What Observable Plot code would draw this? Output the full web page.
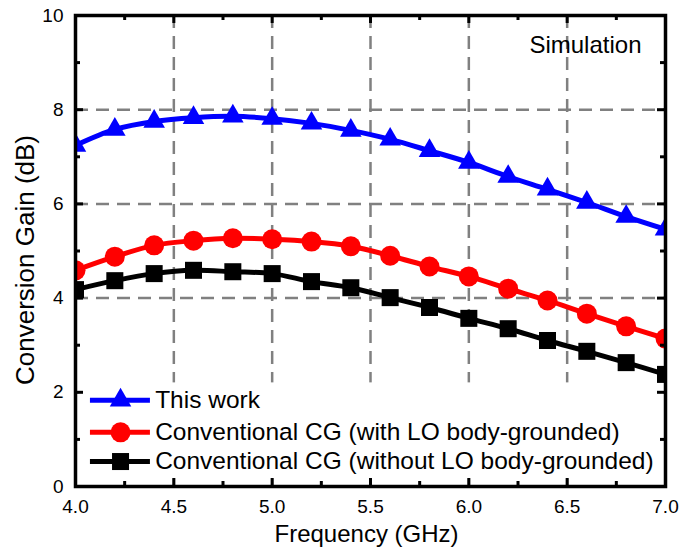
<!DOCTYPE html>
<html><head><meta charset="utf-8">
<script src="https://cdn.jsdelivr.net/npm/d3@7"></script>
<script src="https://cdn.jsdelivr.net/npm/@observablehq/plot@0.6"></script>
<style>body{margin:0;background:#fff} svg{display:block}</style>
</head><body><div id="chart"></div>
<script>
// ---- data ----
const freq = [4.0, 4.2, 4.4, 4.6, 4.8, 5.0, 5.2, 5.4, 5.6, 5.8, 6.0, 6.2, 6.4, 6.6, 6.8, 7.0];
const thisWork = [7.24, 7.58, 7.75, 7.83, 7.86, 7.81, 7.71, 7.56, 7.37, 7.13, 6.88, 6.58, 6.31, 6.03, 5.73, 5.46];
const cgWith = [4.59, 4.88, 5.12, 5.22, 5.27, 5.25, 5.20, 5.10, 4.90, 4.67, 4.46, 4.20, 3.95, 3.67, 3.40, 3.14];
const cgWithout = [4.18, 4.37, 4.52, 4.59, 4.56, 4.52, 4.35, 4.22, 4.01, 3.80, 3.57, 3.35, 3.10, 2.87, 2.63, 2.38];
const seriesNames = ["This work", "Conventional CG (with LO body-grounded)", "Conventional CG (without LO body-grounded)"];
const seriesValues = [thisWork, cgWith, cgWithout];
const xTicks = [4.0, 4.5, 5.0, 5.5, 6.0, 6.5, 7.0];
const xMinorTicks = [4.25, 4.75, 5.25, 5.75, 6.25, 6.75];
const yTicks = [0, 2, 4, 6, 8, 10];
const yMinorTicks = [1, 3, 5, 7, 9];
const xGrid = [4.5, 5.0, 5.5, 6.0, 6.5];
const yGrid = [2, 4, 6, 8];

// ---- styles / layout ----
const colors = ["#0000ff", "#ff0000", "#000000"];
const symbols = ["triangle", "circle", "square"];
const radii = [8, 10, 9.6];
const W = 688, H = 556, mL = 75, mR = 23, mT = 15, mB = 70;
const pw = W - mL - mR, ph = H - mT - mB;
const legendRowY = [1.83, 1.15, 0.53];
const legendLineX = [4.076, 4.381];
const legendMarkX = 4.229;
const legendTextX = 4.405;
const legendBox = {x1: 4.02, x2: 6.98, y1: 0.16, y2: 2.2};
const font = "'Liberation Sans', Arial, sans-serif";

const rows = seriesNames.flatMap((s, i) => freq.map((f, j) => ({series: s, idx: i, x: f, y: seriesValues[i][j]})));

const seriesMarks = seriesNames.flatMap((s, i) => {
  const d = rows.filter(r => r.idx === i);
  return [
    Plot.line(d, {x: "x", y: "y", stroke: colors[i], strokeWidth: 5, curve: "catmull-rom", clip: true}),
    Plot.dot(d, {x: "x", y: "y", symbol: symbols[i], fill: colors[i], r: radii[i], stroke: "none", clip: true})
  ];
});

const legendMarks = seriesNames.flatMap((s, i) => [
  Plot.ruleY([legendRowY[i]], {x1: legendLineX[0], x2: legendLineX[1], stroke: colors[i], strokeWidth: 5}),
  Plot.dot([{x: legendMarkX, y: legendRowY[i]}], {x: "x", y: "y", symbol: symbols[i], fill: colors[i], r: radii[i], stroke: "none"}),
  Plot.text([s], {x: legendTextX, y: legendRowY[i], text: d => d, textAnchor: "start", fontSize: 24.5, fill: "black"})
]);

const tickStyle = {stroke: "black", strokeWidth: 3};
const chart = Plot.plot({
  width: W, height: H,
  marginLeft: mL, marginRight: mR, marginTop: mT, marginBottom: mB,
  style: {fontFamily: font, background: "white", color: "black"},
  x: {domain: [4, 7]},
  y: {domain: [0, 10]},
  marks: [
    Plot.ruleX(xGrid, {stroke: "#808080", strokeWidth: 2.5, strokeDasharray: "13,8"}),
    Plot.ruleY(yGrid, {stroke: "#808080", strokeWidth: 2.5, strokeDasharray: "13,8"}),
    Plot.rect([legendBox], {x1: "x1", x2: "x2", y1: "y1", y2: "y2", fill: "white"}),
    ...seriesMarks,
    ...legendMarks,
    Plot.ruleX(xTicks, {...tickStyle, insetTop: ph - 8}),
    Plot.ruleX(xTicks, {...tickStyle, insetBottom: ph - 8}),
    Plot.ruleX(xMinorTicks, {...tickStyle, insetTop: ph - 5}),
    Plot.ruleX(xMinorTicks, {...tickStyle, insetBottom: ph - 5}),
    Plot.ruleY(yTicks, {...tickStyle, insetRight: pw - 8}),
    Plot.ruleY(yTicks, {...tickStyle, insetLeft: pw - 8}),
    Plot.ruleY(yMinorTicks, {...tickStyle, insetRight: pw - 5}),
    Plot.ruleY(yMinorTicks, {...tickStyle, insetLeft: pw - 5}),
    Plot.frame({stroke: "black", strokeWidth: 3.5}),
    Plot.axisX(xTicks, {tickSize: 0, tickPadding: 13, fontSize: 19, tickFormat: d3.format(".1f"), label: null}),
    Plot.axisY(yTicks, {tickSize: 0, tickPadding: 12, fontSize: 19, label: null}),
    Plot.text(["Frequency (GHz)"], {frameAnchor: "bottom", dx: -4, dy: 48, textAnchor: "middle", lineAnchor: "middle", fontSize: 24, text: d => d}),
    Plot.text(["Conversion Gain (dB)"], {frameAnchor: "left", dx: -50, dy: 9, rotate: -90, textAnchor: "middle", lineAnchor: "middle", fontSize: 26, text: d => d}),
    Plot.text(["Simulation"], {frameAnchor: "top-right", dx: -24, dy: 30, textAnchor: "end", lineAnchor: "middle", fontSize: 24, text: d => d})
  ]
});
document.getElementById("chart").appendChild(chart);
</script>
</body></html>
